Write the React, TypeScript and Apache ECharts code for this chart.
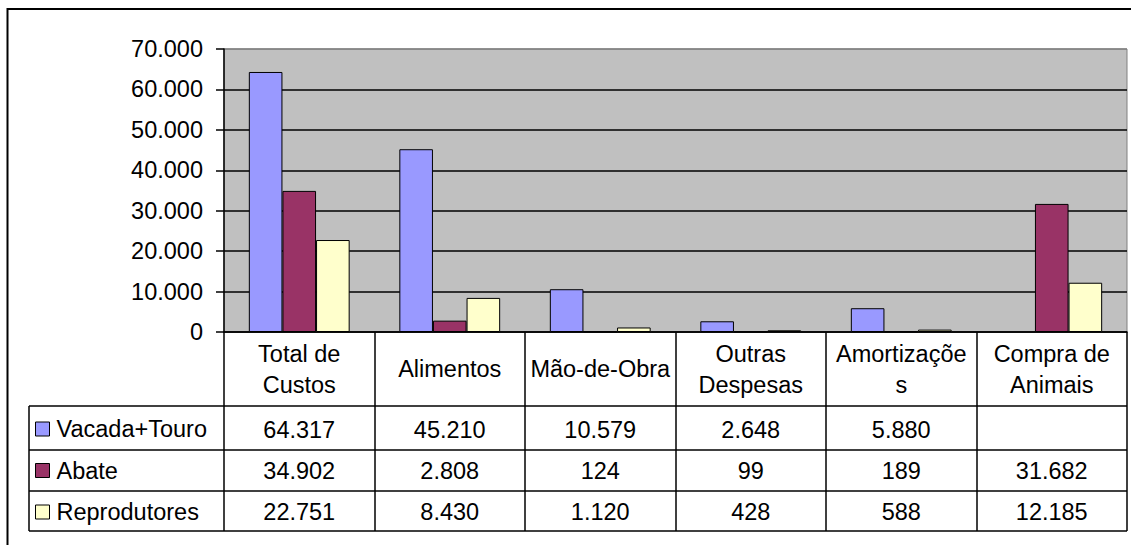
import React, { useEffect, useRef } from 'react';
import * as echarts from 'echarts';

const categories = ['Total de Custos', 'Alimentos', 'Mão-de-Obra', 'Outras Despesas', 'Amortizações', 'Compra de Animais'];
const headerLabels = ['Total de\nCustos', 'Alimentos', 'Mão-de-Obra', 'Outras\nDespesas', 'Amortizaçõe\ns', 'Compra de\nAnimais'];
const seriesNames = ['Vacada+Touro', 'Abate', 'Reprodutores'];
const vacadaTouro: (number | null)[] = [64317, 45210, 10579, 2648, 5880, null];
const abate: (number | null)[] = [34902, 2808, 124, 99, 189, 31682];
const reprodutores: (number | null)[] = [22751, 8430, 1120, 428, 588, 12185];
const yMin = 0;
const yMax = 70000;
const yInterval = 10000;

const seriesData = [vacadaTouro, abate, reprodutores];
const colors = ['#9999FF', '#993366', '#FFFFCC'];
const FONT = '"Liberation Sans", Arial, sans-serif';
const FS = 23.5;

const fmt = (v: number | null | undefined) =>
  v == null ? '' : String(Math.round(v)).replace(/\B(?=(\d{3})+(?!\d))/g, '.');

export default function App() {
  const ref = useRef<HTMLDivElement>(null);
  useEffect(() => {
    document.body.style.margin = '0';
    if (!ref.current) return;
    const chart = echarts.init(ref.current, null, { renderer: 'svg' });
    const rowMargins = [98, 139, 180];
    const baseLabel = { fontFamily: FONT, fontSize: FS, color: '#000' };
    const rowAxes = seriesData.map((arr, r) => ({
      type: 'category',
      gridIndex: 0,
      position: 'bottom',
      data: categories,
      axisLine: { show: false },
      axisTick: { show: false },
      splitLine: { show: false },
      axisLabel: {
        ...baseLabel,
        interval: 0,
        margin: rowMargins[r],
        verticalAlign: 'middle',
        formatter: (_v: string, idx: number) => fmt(arr[idx]),
      },
    }));
    const lineStyle = { stroke: '#000', lineWidth: 1.5 };
    const hLines = [406, 450, 491, 531].map((y) => ({
      type: 'line',
      silent: true,
      z: 100,
      shape: { x1: 29, y1: y, x2: 1127, y2: y },
      style: lineStyle,
    }));
    chart.setOption({
      animation: false,
      grid: {
        left: 224,
        right: 4,
        top: 49,
        bottom: 213,
        show: true,
        backgroundColor: '#C0C0C0',
        borderColor: '#808080',
        borderWidth: 1,
        containLabel: false,
      },
      legend: {
        orient: 'vertical',
        left: 35,
        top: 417,
        padding: 0,
        itemGap: 17.5,
        itemWidth: 14,
        itemHeight: 14,
        icon: 'rect',
        itemStyle: { borderColor: '#000', borderWidth: 1 },
        textStyle: { ...baseLabel, lineHeight: 24, padding: [0, 0, 0, 2] },
        data: seriesNames,
        selectedMode: false,
      },
      xAxis: [
        {
          type: 'category',
          gridIndex: 0,
          position: 'bottom',
          data: categories,
          axisLine: { show: true, lineStyle: { color: '#000', width: 1.5 } },
          axisTick: { show: true, length: 199, lineStyle: { color: '#000', width: 1.5 } },
          axisLabel: {
            ...baseLabel,
            interval: 0,
            margin: 37,
            lineHeight: 31,
            verticalAlign: 'middle',
            formatter: (_v: string, idx: number) => headerLabels[idx],
          },
        },
        ...rowAxes,
      ],
      yAxis: {
        type: 'value',
        min: yMin,
        max: yMax,
        interval: yInterval,
        axisLine: { show: true, lineStyle: { color: '#000', width: 1.5 } },
        axisTick: { show: true, length: 8, lineStyle: { color: '#000', width: 1.5 } },
        axisLabel: { ...baseLabel, margin: 21, formatter: (v: number) => fmt(v) },
        splitLine: {
          show: true,
          lineStyle: {
            color: ['#000', '#000', '#000', '#000', '#000', '#000', '#000', '#808080'],
            width: 1.5,
          },
        },
      },
      series: seriesNames.map((name, i) => ({
        type: 'bar',
        name,
        xAxisIndex: 0,
        data: seriesData[i],
        barGap: '0%',
        barCategoryGap: '33%',
        itemStyle: { color: colors[i], borderColor: '#000', borderWidth: 1 },
      })),
      graphic: [
        {
          type: 'rect',
          silent: true,
          z: 100,
          shape: { x: 7.5, y: 9, width: 3000, height: 3000 },
          style: { fill: 'none', stroke: '#000', lineWidth: 2 },
        },
        ...hLines,
        {
          type: 'line',
          silent: true,
          z: 100,
          shape: { x1: 29, y1: 406, x2: 29, y2: 531 },
          style: lineStyle,
        },
      ],
    });
    return () => chart.dispose();
  }, []);
  return <div ref={ref} style={{ width: 1131, height: 545 }} />;
}
